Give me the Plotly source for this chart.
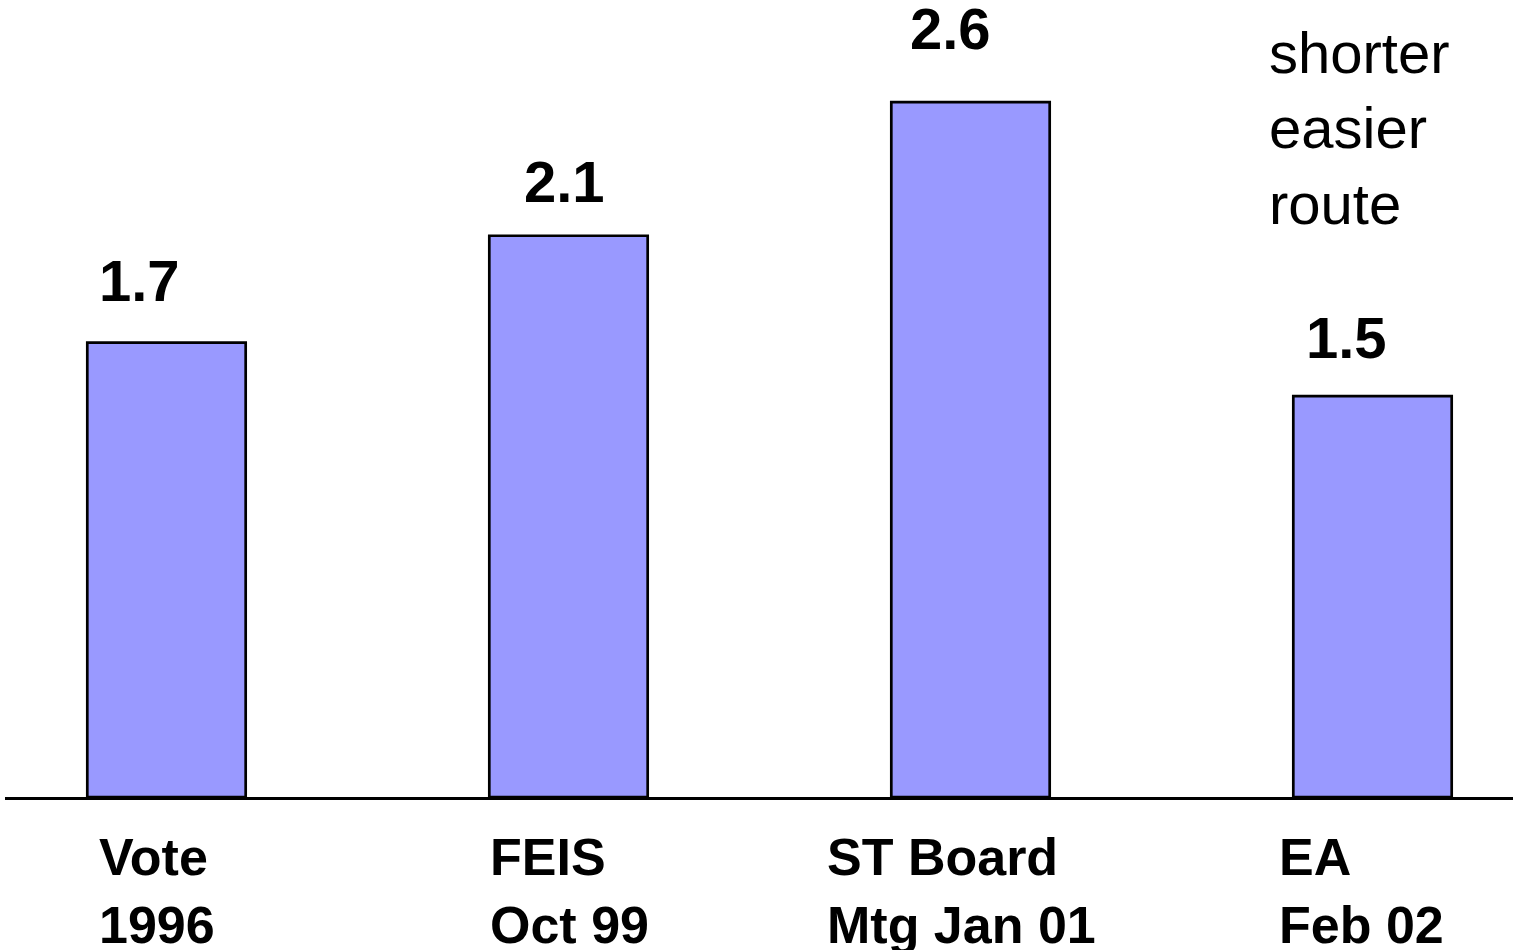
import plotly.graph_objects as go

categories = ["Vote<br>1996", "FEIS<br>Oct 99", "ST Board<br>Mtg Jan 01", "EA<br>Feb 02"]
values = [1.7, 2.1, 2.6, 1.5]
value_labels = ["1.7", "2.1", "2.6", "1.5"]
note_text = "shorter<br>easier<br>route"

# styling (pixel offsets for text placement)
bar_width = 0.394
label_xshift = [10, 33, 17, 11]      # value label left offset from bar left edge, px
label_yshift = [28, 20, 39, 24]      # extra lift above bar top, px
cat_xshift = [10, -1, -66, -16]      # category label left offset from bar left edge, px

FONT = "Liberation Sans, Arial, sans-serif"

x_idx = list(range(len(values)))

fig = go.Figure()
fig.add_trace(go.Bar(
    x=x_idx, y=values, width=bar_width,
    marker=dict(color="#9999FF", line=dict(color="black", width=2.7)),
    hoverinfo="skip", showlegend=False,
))

for i, (v, t) in enumerate(zip(values, value_labels)):
    fig.add_annotation(
        x=i - bar_width / 2, y=v, xref="x", yref="y",
        text=f"<b>{t}</b>", showarrow=False,
        xanchor="left", yanchor="bottom",
        xshift=label_xshift[i], yshift=label_yshift[i],
        font=dict(family=FONT, size=58, color="black"),
    )

for i, c in enumerate(categories):
    fig.add_annotation(
        x=i - bar_width / 2, y=0, xref="x", yref="y",
        text=f"<b>{c}</b>", showarrow=False, align="left",
        xanchor="left", yanchor="top",
        xshift=cat_xshift[i], yshift=-29,
        font=dict(family=FONT, size=52, color="black"),
    )

fig.add_annotation(
    x=3 - bar_width / 2, y=2.982, xref="x", yref="y",
    text=note_text, showarrow=False, align="left",
    xanchor="left", yanchor="top", xshift=-26, yshift=-18,
    font=dict(family=FONT, size=58, color="black"),
)

fig.update_layout(
    width=1513, height=950,
    margin=dict(l=5, r=0, t=0, b=153),
    paper_bgcolor="white", plot_bgcolor="white",
    xaxis=dict(range=[-0.4017, 3.3495], showgrid=False, zeroline=False,
               showticklabels=False, ticks="", showline=True,
               linecolor="black", linewidth=2.7),
    yaxis=dict(range=[0, 2.982], showgrid=False, zeroline=False,
               showticklabels=False, ticks="", showline=False),
)

fig.write_html("out.html", config={"displayModeBar": False},
               post_script="document.body.style.margin='0';")
